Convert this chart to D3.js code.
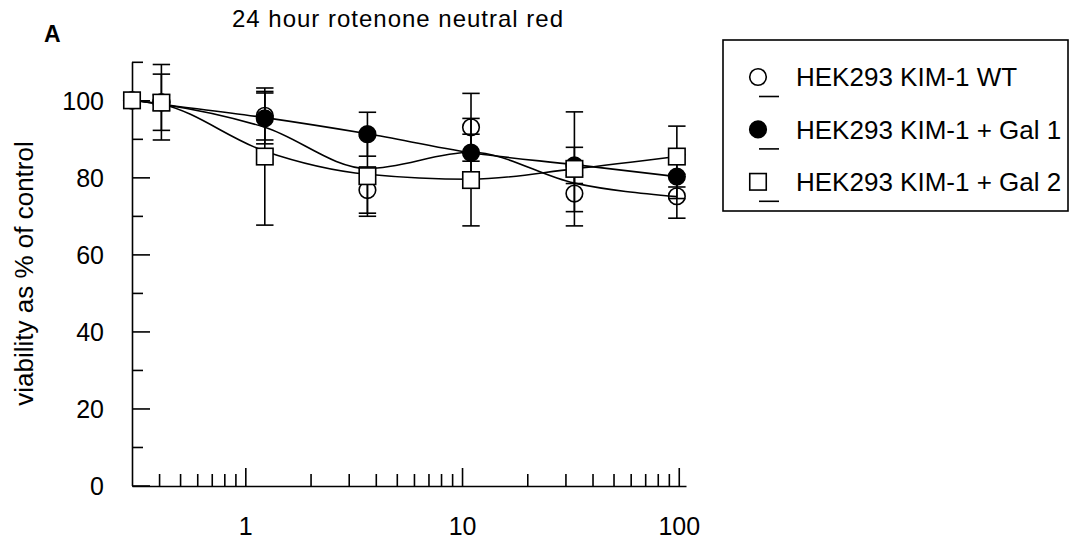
<!DOCTYPE html>
<html><head><meta charset="utf-8">
<script src="https://cdn.jsdelivr.net/npm/d3@7"></script>
<style>
body{margin:0;background:#fff}
svg{display:block}
text{font-family:"Liberation Sans",Arial,Helvetica,sans-serif;fill:#000}
</style>
</head><body>
<svg id="chart" width="1070" height="542"></svg>
<script>
// ---- data ----
const doses = [0.3, 0.41, 1.23, 3.66, 11, 33, 98];
const seriesNames = ["HEK293 KIM-1 WT", "HEK293 KIM-1 + Gal 1", "HEK293 KIM-1 + Gal 2"];
const wtMean  = [100, 99.5, 96.0, 76.7, 93.0, 75.8, 75.1];
const wtErr   = [0,   9.8,  6.3,  6.0,  8.8,  4.7,  5.7];
const gal1Mean = [100, 99.5, 95.3, 91.2, 86.4, 83.1, 80.2];
const gal1Err  = [0,   7.3,  6.6,  5.7,  8.9,  4.7,  5.7];
const gal2Mean = [100, 99.4, 85.4, 80.3, 79.3, 82.2, 85.4];
const gal2Err  = [0,   2.0,  17.8, 10.4, 11.9, 14.8, 7.9];
// fitted (smoothed) curves as drawn in the reference, at the same doses
const wtFit   = [100, 99, 93.0, 82.3, 86.5, 78.5, 75.0];
const gal1Fit = [100, 99, 95.5, 91.3, 86.4, 83.3, 80.2];
const gal2Fit = [100, 99, 86.8, 80.8, 79.5, 82.2, 85.4];
const xMajorTicks = [1, 10, 100];
const xMinorTicks = [0.4,0.5,0.6,0.7,0.8,0.9,2,3,4,5,6,7,8,9,20,30,40,50,60,70,80,90];
const yMajorTicks = [0, 20, 40, 60, 80, 100];
const yMinorTicks = [10, 30, 50, 70, 90, 110];
const titleText = "24 hour rotenone neutral red";
const yLabelText = "viability as % of control";
const panelLabel = "A";

// ---- drawing ----
const svg = d3.select("#chart");
const x = d3.scaleLog().domain([0.3, 108]).range([132, 686]);
const y = d3.scaleLinear().domain([0, 110]).range([485.5, 61.8]);

const series = [
  {name: seriesNames[0], mean: wtMean, err: wtErr, fit: wtFit, shape: "openCircle"},
  {name: seriesNames[1], mean: gal1Mean, err: gal1Err, fit: gal1Fit, shape: "filledCircle"},
  {name: seriesNames[2], mean: gal2Mean, err: gal2Err, fit: gal2Fit, shape: "square"}
];

const SW = 1.6;
// axes
const xAxisG = svg.append("g").attr("transform", "translate(0,486)");
xAxisG.call(d3.axisBottom(x).tickValues(xMajorTicks).tickFormat(d3.format("d"))
  .tickSize(-18).tickSizeOuter(0).tickPadding(31));
const xMinorG = svg.append("g").attr("transform", "translate(0,486)");
xMinorG.call(d3.axisBottom(x).tickValues(xMinorTicks).tickFormat("").tickSize(-12).tickSizeOuter(0));
xMinorG.select(".domain").remove();

const yAxisG = svg.append("g").attr("transform", "translate(132,0)");
yAxisG.call(d3.axisLeft(y).tickValues(yMajorTicks).tickFormat(d3.format("d"))
  .tickSize(-18).tickSizeOuter(0).tickPadding(28));
const yMinorG = svg.append("g").attr("transform", "translate(132,0)");
yMinorG.call(d3.axisLeft(y).tickValues(yMinorTicks).tickFormat("").tickSize(-11).tickSizeOuter(0));
yMinorG.select(".domain").remove();
yAxisG.selectAll("text").attr("dy", "0.37em");

svg.selectAll(".domain, .tick line").attr("stroke", "#000").attr("stroke-width", SW);
svg.selectAll(".tick text").attr("font-size", 25).attr("font-family", "'Liberation Sans',Arial,sans-serif").attr("fill", "#000");

// fitted curves
const line = d3.line().x((d, i) => x(doses[i])).y(d => y(d)).curve(d3.curveMonotoneX);
series.forEach(s => {
  svg.append("path").attr("d", line(s.fit)).attr("fill", "none")
    .attr("stroke", "#000").attr("stroke-width", SW);
});

// error bars + markers
const capW = 8.7, R = 8.3, SQ = 16.5;
function marker(g, shape, cx, cy) {
  if (shape === "square") {
    g.append("rect").attr("x", cx - SQ/2).attr("y", cy - SQ/2).attr("width", SQ).attr("height", SQ)
      .attr("fill", "#fff").attr("stroke", "#000").attr("stroke-width", SW);
  } else {
    g.append("circle").attr("cx", cx).attr("cy", cy).attr("r", R)
      .attr("fill", shape === "filledCircle" ? "#000" : "none")
      .attr("stroke", "#000").attr("stroke-width", SW);
  }
}
series.forEach(s => {
  const g = svg.append("g");
  doses.forEach((d, i) => {
    const e = s.err[i];
    if (e > 0) {
      const cx = x(d), y1 = y(s.mean[i] + e), y0 = y(s.mean[i] - e);
      g.append("line").attr("x1", cx).attr("x2", cx).attr("y1", y1).attr("y2", y0)
        .attr("stroke", "#000").attr("stroke-width", SW);
      [y1, y0].forEach(yy => g.append("line").attr("x1", cx - capW).attr("x2", cx + capW)
        .attr("y1", yy).attr("y2", yy).attr("stroke", "#000").attr("stroke-width", SW));
    }
  });
  doses.forEach((d, i) => marker(g, s.shape, x(d), y(s.mean[i])));
});

// title, panel label, y label
svg.append("text").attr("x", 232).attr("y", 27).attr("font-size", 24)
  .attr("textLength", 331).attr("lengthAdjust", "spacing").text(titleText);
svg.append("text").attr("x", 44).attr("y", 42).attr("font-size", 23).attr("font-weight", "bold").text(panelLabel);
svg.append("text").attr("transform", "translate(33,273.5) rotate(-90)").attr("text-anchor", "middle")
  .attr("font-size", 26).text(yLabelText);

// legend
const lg = svg.append("g");
lg.append("rect").attr("x", 723).attr("y", 40).attr("width", 345).attr("height", 171)
  .attr("fill", "#fff").attr("stroke", "#000").attr("stroke-width", SW);
series.forEach((s, i) => {
  const cy = 77 + i * 52.4;
  marker(lg, s.shape, 758, cy);
  lg.append("line").attr("x1", 759).attr("x2", 779).attr("y1", cy + 19.5).attr("y2", cy + 19.5)
    .attr("stroke", "#000").attr("stroke-width", SW);
  lg.append("text").attr("x", 796).attr("y", cy + 9.3).attr("font-size", 26).text(s.name);
});
</script>
</body></html>
